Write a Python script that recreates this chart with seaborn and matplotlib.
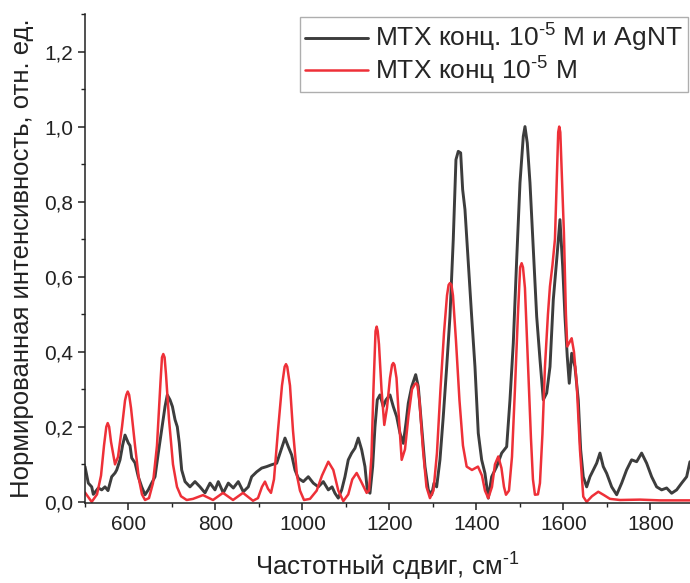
# Raman spectra of MTX with and without AgNT

# Import required libraries
import pandas as pd  # For data handling
import matplotlib
matplotlib.use("Agg")
import matplotlib.pyplot as plt  # For plotting
import seaborn as sns  # For styling and line plots
from matplotlib.ticker import AutoMinorLocator, FuncFormatter, MultipleLocator

# Spectrum of MTX 10^-5 M with AgNT (black curve): shift (cm-1) and intensity
shift_agnt = [
    500, 507.6, 515.4, 519.1, 530.6, 538.4, 546, 552.9, 561.4, 569, 572.9, 580.5,
    586.7, 592, 599.5, 603.5, 607.4, 615, 622.5, 630.4, 638, 645.5, 653.3, 661,
    668.5, 676.3, 684, 689.2, 695.4, 701, 707, 712.2, 716.8, 722.3, 730, 741.4,
    752.9, 764.4, 775.9, 787.4, 798.9, 806.5, 818, 829.5, 841, 852.4, 864, 875.4,
    883.2, 894.7, 906.2, 917.7, 929.2, 940.7, 952.2, 959.8, 967.4, 975.2, 982.8,
    990.4, 1001.9, 1013.4, 1024.9, 1036.4, 1047.9, 1059.4, 1068, 1074.7, 1082.3,
    1090.2, 1097.7, 1105.3, 1113.1, 1120.7, 1128.3, 1136.1, 1143.7, 1149, 1155.2,
    1161.4, 1166.7, 1172, 1178.2, 1185.8, 1192, 1201.2, 1208.8, 1216.6, 1224.2,
    1231.8, 1238, 1243.3, 1251.1, 1260.3, 1266.3, 1274.1, 1281.7, 1289.3, 1297.1,
    1302.4, 1308.5, 1316.1, 1323.7, 1331.6, 1339.1, 1346.7, 1352.9, 1358.2,
    1363.7, 1368.3, 1373.6, 1381.2, 1389, 1396.6, 1404.2, 1412, 1419.6, 1427.2,
    1435, 1446.5, 1458, 1469.5, 1477.1, 1484.7, 1492.5, 1500.1, 1507.7, 1511.6,
    1516.9, 1523.1, 1530.7, 1538.5, 1546.1, 1553.7, 1561.5, 1569.1, 1576.7,
    1584.5, 1592, 1598.3, 1603.5, 1608.8, 1613.4, 1619, 1626.5, 1634.1, 1639.6,
    1645.6, 1653.4, 1661, 1668.6, 1676.4, 1684, 1691.6, 1699.4, 1710.9, 1722.4,
    1733.9, 1745.2, 1756.8, 1768.3, 1779.8, 1791.3, 1802.8, 1814.3, 1825.8,
    1837.3, 1848.8, 1860.3, 1871.8, 1883.3, 1890.9,
]
intensity_agnt = [
    0.094, 0.05, 0.04, 0.02, 0.037, 0.032, 0.04, 0.03, 0.067, 0.077, 0.085, 0.112,
    0.152, 0.178, 0.157, 0.15, 0.117, 0.104, 0.067, 0.04, 0.019, 0.032, 0.05, 0.067,
    0.13, 0.192, 0.254, 0.285, 0.272, 0.254, 0.219, 0.2, 0.157, 0.085, 0.054, 0.04,
    0.054, 0.04, 0.024, 0.05, 0.032, 0.054, 0.024, 0.05, 0.037, 0.054, 0.027, 0.04,
    0.067, 0.08, 0.09, 0.094, 0.099, 0.103, 0.143, 0.17, 0.147, 0.125, 0.085,
    0.063, 0.054, 0.067, 0.05, 0.04, 0.054, 0.032, 0.04, 0.023, 0.01,
    0.032, 0.067, 0.112, 0.13, 0.143, 0.17, 0.139, 0.094, 0.032, 0.023,
    0.094, 0.2, 0.272, 0.285, 0.254, 0.272, 0.285, 0.254, 0.227, 0.183,
    0.156, 0.21, 0.263, 0.307, 0.339, 0.307, 0.2, 0.094, 0.032, 0.019,
    0.05, 0.04, 0.112, 0.227, 0.36, 0.494, 0.699, 0.912, 0.934,
    0.93, 0.832, 0.779, 0.636, 0.494, 0.36, 0.183, 0.112, 0.076, 0.01,
    0.067, 0.094, 0.13, 0.147, 0.272, 0.423, 0.645, 0.85, 0.974, 1.0,
    0.956, 0.85, 0.672, 0.494, 0.379, 0.272, 0.29, 0.36, 0.539,
    0.645, 0.752, 0.627, 0.494, 0.387, 0.316, 0.396, 0.36, 0.272, 0.139,
    0.067, 0.04, 0.067, 0.085, 0.103, 0.13, 0.094, 0.076, 0.04, 0.019,
    0.05, 0.085, 0.112, 0.107, 0.13, 0.103, 0.067, 0.04, 0.032,
    0.037, 0.023, 0.032, 0.05, 0.067, 0.107,
]

# Spectrum of MTX 10^-5 M (red curve)
shift_mtx = [
    500, 515.4, 527.6, 536.8, 543.7, 549, 552.2, 555.5, 559.8, 569, 575.9, 585.1,
    592, 595, 598.2, 601.5, 605.8, 615, 624.1, 631, 638, 647.1, 656.3, 665.5,
    673.6, 677, 680, 683, 686.2, 693.1, 702.3, 711.5, 720.7, 733.8, 748.3, 771.3,
    794.3, 817.3, 840.3, 863.2, 886.2, 897.7, 906.9, 913.8, 920.7, 927.6, 934.5,
    943.7, 952.9, 959, 962.1, 965, 971.3, 978.2, 987.4, 994.3, 1003.5, 1017.3,
    1032.7, 1044.8, 1059.4, 1070.9, 1082.4, 1093.9, 1105.3, 1114.5, 1124.6,
    1134.5, 1147.6, 1152.9, 1158.6, 1163.2, 1168, 1170.6, 1173, 1175.9, 1181.7,
    1188.1, 1194.3, 1201.2, 1206, 1208.8, 1211.5, 1216.2, 1221.9, 1228.1,
    1235.7, 1243.8, 1251.8, 1258, 1261, 1264, 1269, 1277, 1285.1, 1293.1,
    1301.2, 1309.2, 1317.3, 1325.4, 1332.3, 1336, 1339.1, 1342.5, 1346, 1352.9,
    1361, 1369, 1377.5, 1389.7, 1403.5, 1412.7, 1419.6, 1427.2, 1435.7, 1442.6,
    1450.2, 1457.5, 1463.3, 1467.9, 1474.8, 1481.7, 1488.5, 1495.4, 1500.5,
    1503.9, 1507, 1511.5, 1518.4, 1525.3, 1529.9, 1534.5, 1541.4, 1546, 1551.7,
    1557.5, 1564.4, 1569, 1574.7, 1580.5, 1585.1, 1588, 1590.3, 1592.8, 1595.4,
    1601.1, 1605.7, 1608.8, 1613.8, 1618.9, 1624.2, 1630.4, 1638, 1645.6,
    1653.4, 1665.6, 1680.1, 1693.2, 1707, 1730, 1776, 1822, 1891,
]
intensity_mtx = [
    0.025, 0.0, 0.02, 0.07, 0.15, 0.20, 0.21, 0.20, 0.16, 0.10, 0.12, 0.2,
    0.27, 0.285, 0.294, 0.285, 0.25, 0.15, 0.06, 0.02, 0.005, 0.01, 0.05, 0.15,
    0.32, 0.385, 0.394, 0.385, 0.34, 0.22, 0.1, 0.04, 0.015, 0.005, 0.008, 0.018,
    0.005, 0.024, 0.005, 0.024, 0.003, 0.01, 0.04, 0.054, 0.035, 0.024, 0.06,
    0.19, 0.31, 0.36, 0.367, 0.36, 0.31, 0.19, 0.07, 0.03, 0.005, 0.008,
    0.03, 0.07, 0.107, 0.085, 0.03, 0.002, 0.02, 0.06, 0.077,
    0.055, 0.024, 0.03, 0.12, 0.30, 0.455, 0.467, 0.455, 0.42, 0.30,
    0.205, 0.25, 0.33, 0.365, 0.37, 0.365, 0.33, 0.22, 0.112,
    0.14, 0.23, 0.30, 0.313, 0.316, 0.313, 0.27, 0.14, 0.04, 0.01,
    0.03, 0.13, 0.30, 0.45, 0.55, 0.578, 0.583, 0.578, 0.55, 0.43,
    0.27, 0.15, 0.094, 0.085, 0.094, 0.07, 0.03, 0.01, 0.04, 0.10,
    0.121, 0.09, 0.04, 0.019, 0.03, 0.12, 0.30, 0.50, 0.625,
    0.636, 0.625, 0.57, 0.37, 0.17, 0.06, 0.019, 0.02, 0.05, 0.18,
    0.36, 0.50, 0.574, 0.63, 0.70, 0.88, 0.985, 1.0, 0.985, 0.90,
    0.717, 0.50, 0.414, 0.425, 0.436, 0.40, 0.317, 0.139, 0.014,
    0.0, 0.015, 0.027, 0.018, 0.008, 0.005, 0.006, 0.004, 0.004,
]

# Legend labels and axis titles
label_agnt = "МТХ конц. 10$^{\\text{-5}}$ М и AgNT"
label_mtx = "МТХ конц 10$^{\\text{-5}}$ М"
x_title = "Частотный сдвиг, см$^{\\text{-1}}$"
y_title = "Нормированная интенсивность, отн. ед."


def comma_decimal(value, pos):
    """Format y tick labels with a comma as decimal separator."""
    return f"{value:.1f}".replace(".", ",")


def create_plot():
    # Style first, then fonts (set_style resets font.family)
    sns.set_style("ticks")
    plt.rcParams["font.family"] = ["Liberation Sans", "DejaVu Sans"]
    plt.rcParams["mathtext.fontset"] = "custom"
    plt.rcParams["mathtext.rm"] = "Liberation Sans"
    plt.rcParams["mathtext.it"] = "Liberation Sans:italic"
    plt.rcParams["mathtext.bf"] = "Liberation Sans:bold"

    fig = plt.figure(figsize=(6.9, 5.83), dpi=100)
    ax = fig.add_axes([85 / 690, 80 / 583, 605 / 690, 489 / 583])

    df_agnt = pd.DataFrame({"shift": shift_agnt, "intensity": intensity_agnt})
    df_mtx = pd.DataFrame({"shift": shift_mtx, "intensity": intensity_mtx})

    # Draw black spectrum first, red on top
    sns.lineplot(data=df_agnt, x="shift", y="intensity", ax=ax, color="#3d3d3d",
                 linewidth=2.1, estimator=None, sort=False, label=label_agnt)
    sns.lineplot(data=df_mtx, x="shift", y="intensity", ax=ax, color="#ee3038",
                 linewidth=1.8, estimator=None, sort=False, label=label_mtx)

    ax.set_xlim(500, 1891)
    ax.set_ylim(-0.003, 1.3)

    # Ticks: major + one minor in between, pointing outward
    ax.xaxis.set_major_locator(MultipleLocator(200))
    ax.yaxis.set_major_locator(MultipleLocator(0.2))
    ax.xaxis.set_minor_locator(AutoMinorLocator(2))
    ax.yaxis.set_minor_locator(AutoMinorLocator(2))
    ax.yaxis.set_major_formatter(FuncFormatter(comma_decimal))
    ax.tick_params(which="major", direction="out", length=5, width=1.1,
                   labelsize=15, color="#222222", labelcolor="#222222")
    ax.tick_params(which="minor", direction="out", length=3, width=1.0,
                   color="#222222")

    ax.set_xlabel(x_title, fontsize=18.5, color="#222222", labelpad=12)
    ax.set_ylabel(y_title, fontsize=18.5, color="#222222", labelpad=7)

    for side in ["top", "right"]:
        ax.spines[side].set_visible(False)
    for side in ["left", "bottom"]:
        ax.spines[side].set_linewidth(1.1)
        ax.spines[side].set_color("#222222")

    # Legend box in the upper right corner
    legend = ax.legend(loc="upper right", bbox_to_anchor=(0.9967, 0.994),
                       fontsize=19, frameon=True, fancybox=False,
                       handlelength=2.4, handletextpad=0.25, borderpad=0.2,
                       borderaxespad=0, labelspacing=0.0)
    legend.get_frame().set_edgecolor("#9a9a9a")
    legend.get_frame().set_linewidth(1.0)

    fig.savefig("out.png", dpi=100)


if __name__ == "__main__":
    create_plot()
